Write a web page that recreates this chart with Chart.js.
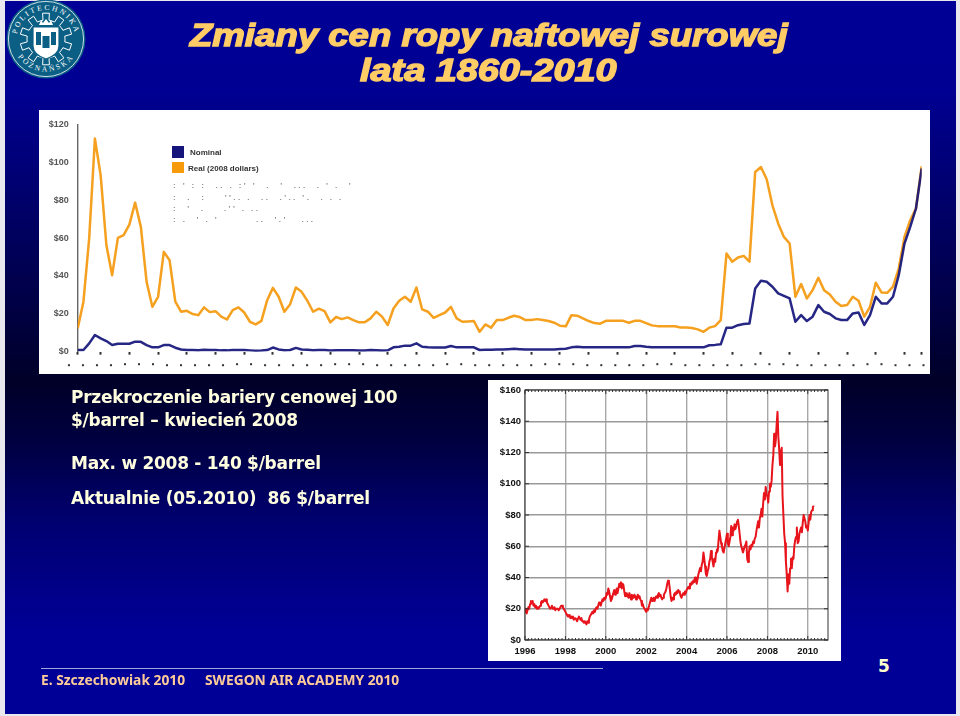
<!DOCTYPE html>
<html lang="pl"><head><meta charset="utf-8">
<script src="https://cdn.jsdelivr.net/npm/chart.js@4"></script>
<style>
html,body{margin:0;padding:0;background:#e8e8ee;width:960px;height:716px;overflow:hidden}
#bg{position:absolute;left:5px;top:1px;width:951px;height:713px;
 background:linear-gradient(to bottom,#000096 0,#000092 90px,#000060 230px,#000028 380px,#000040 440px,#000070 520px,#000096 630px,#000096 100%)}
.t{position:absolute;white-space:nowrap;margin:0}
.title{color:#ffcc66;font:italic 700 31px "Liberation Sans",sans-serif;-webkit-text-stroke:1.4px #ffcc66;transform-origin:0 0}
.body{color:#ffffe0;font:700 17px "DejaVu Sans",sans-serif;filter:blur(.25px);letter-spacing:-.27px}
.foot{color:#ffcc99;font:700 13.8px "Noto Sans",sans-serif;filter:blur(.2px)}
canvas{position:absolute;display:block;background:#fff}
#oilLong{left:39px;top:110px;filter:blur(.55px)}
#oilShort{left:488px;top:380px;filter:blur(.45px)}
#logo{position:absolute;left:5px;top:0}
</style></head><body>
<div id="bg"></div>
<svg id="logo" width="84" height="82" viewBox="0 0 84 82">
 <circle cx="41" cy="39" r="39.5" fill="#0b5f85"/>
 <circle cx="41" cy="39" r="37.6" fill="none" stroke="#dfeaf0" stroke-width=".9"/>
 <defs><path id="arcTop" d="M12.5 47 A29.5 29.5 0 1 1 69.500 47"/><path id="arcBot" d="M9 49 A34 34 0 0 0 73 49"/></defs>
 <text fill="#fff" font-family="Liberation Serif,serif" font-size="7.6" letter-spacing="2.2"><textPath href="#arcTop" startOffset="50%" text-anchor="middle">POLITECHNIKA</textPath></text>
 <text fill="#fff" font-family="Liberation Serif,serif" font-size="7.6" letter-spacing="2.2"><textPath href="#arcBot" startOffset="50%" text-anchor="middle">POZNAŃSKA</textPath></text>
 <path id="gear" fill="none" stroke="#fff" stroke-width="1"/>
 <path d="M28 27h26v19c0 7-7 11-13 13c-6-2-13-6-13-13z" fill="#fff" stroke="#0b5f85" stroke-width="1.2"/>
 <path d="M31 45v-13h5v13zM46 45v-13h5v13zM37.500 48v-12h7v12z" fill="#0b5f85"/>
 <path d="M34 25l2-5 2 3 3-4 3 4 2-3 2 5z" fill="#fff"/>
</svg>
<div class="t title" style="left:190px;top:18px;transform:scaleX(1.18)">Zmiany cen ropy naftowej surowej</div>
<div class="t title" style="left:360px;top:53px;transform:scaleX(1.22)">lata 1860-2010</div>
<canvas id="oilLong" width="891" height="264"></canvas>
<canvas id="oilShort" width="353" height="281"></canvas>
<div class="t body" style="left:71px;top:387px">Przekroczenie bariery cenowej 100</div>
<div class="t body" style="left:71px;top:410px">$/barrel – kwiecień 2008</div>
<div class="t body" style="left:71px;top:453px">Max. w 2008 - 140 $/barrel</div>
<div class="t body" style="left:71px;top:488px">Aktualnie (05.2010)&nbsp; 86 $/barrel</div>
<div style="position:absolute;left:41px;top:668px;width:562px;height:1px;background:#9fa6d8"></div>
<div class="t foot" style="left:41px;top:670px">E. Szczechowiak 2010</div>
<div class="t foot" style="left:205px;top:670px">SWEGON AIR ACADEMY 2010</div>
<div class="t" style="left:878px;top:656px;color:#ffffcc;font:700 17px 'DejaVu Sans',sans-serif">5</div>
<script>
// ---------- long series: 1861-2008, one value per year ----------
const firstYear = 1861;
const nominalName = "Nominal";
const realName = "Real (2008 dollars)";
const nominal = [0.9,0.9,4.4,8.8,7,5.6,3.5,4.2,4.2,4.2,5.3,5.2,3.5,2.3,2.3,3.5,3.5,2.1,
1.2,0.95,0.9,0.8,1.0,0.85,0.9,0.7,0.7,0.9,0.95,0.9,0.7,0.55,0.65,0.85,2.2,1.2,0.8,0.9,2.0,1.2,1.0,0.8,0.95,0.85,0.6,0.75,0.7,0.7,0.7,0.6,0.6,0.95,0.8,0.6,0.7,
2.3,2.6,3.2,3.2,4.4,2.6,2.3,2.2,2.2,2.2,3.0,2.3,2.3,2.3,2.3,0.9,1.0,
1.0,1.1,1.1,1.3,1.5,1.3,1.1,1.1,1.2,1.2,1.2,1.2,1.4,1.6,
2.3,2.6,2.3,2.3,2.3,2.3,2.3,2.4,2.4,2.3,2.3,3.0,3.0,
2.6,2.3,2.3,2.3,2.3,2.3,2.3,2.3,2.3,2.3,2.3,3.4,3.6,3.9,
12.7,12.7,14,14.6,14.9,33.4,37.4,36.9,34.3,30.8,29.5,28.1,15.8,19.3,16.2,18.5,24.6,21.1,19.9,17.6,16.7,16.7,20.2,20.7,14.1,19.3,29,25.5,25.5,29,40.4,57.1,65.9,75.6,96.7];
const real = [12.3,26.4,59.8,112.5,93.1,56.2,40.4,60.1,61.5,67.1,78.7,65.9,36.9,23.7,29,52.7,48.3,26.4,21.1,21.6,19.9,19.3,23.4,20.9,21.4,18.5,17,22,23.4,20.7,15.8,14.4,16.3,27.2,33.7,29,21.1,25.1,33.9,31.6,26.9,21.1,22.7,21.4,15.5,18.3,17.2,18.1,16.7,15.5,15.5,17.6,21.1,18.5,14.1,22.8,26.9,29,26.4,33.9,22.3,21.1,17.9,19.3,20.7,23.7,17.6,15.8,16,16.2,10.5,14.4,
12.7,16.7,16.7,17.9,19,18.3,16.7,16.7,17.2,16.7,16.2,15.3,13.7,13.4,19.3,19,17.6,16.2,15.1,14.8,16.3,16.3,16.3,16.3,15.3,16.3,16.3,15.1,13.9,13.5,13.5,13.5,13.4,12.8,12.8,12.5,11.8,10.5,12.7,13.5,16.7,51.8,47.5,49.7,50.6,47.5,94.9,97.5,91,77.3,67.7,60.6,57.1,29,35.7,28.1,32.5,39,32.5,30.2,26.4,24.1,24.6,29,26.9,18.5,23.7,36.4,31.3,31.1,34.3,43.9,60.6,69.4,75.6,97.9];
const longTicks = [0,20,40,60,80,100,120];
const faintRows = [
 ": ' : :  .. . :' '  .  '  ...  . ' .  '",
 ":  .  :    ''.. .  ..  .'.. '.  . . .",
 ":  '  .    .'' . ..",
 ": .  ' . '        ..  '.'   ..."];
// ---------- short series: 1996-2010.3, two readings per month ----------
const shortStart = 1996;
const readingsPerYear = 24;
const price = [
18,20,17,19,21,20,23,25,24,25,22,23,21,22,20,21,20,21,22,24,25,24,25,26,
25,26,24,23,22,21,20,21,22,20,20,21,19,20,20,20,19,20,21,22,22,21,20,19,
18,17,16,15,15,16,14,15,14,15,13,14,14,13,12,14,15,14,13,14,12,12,11,12,
11,10,12,11,13,15,16,17,18,17,19,18,20,21,20,22,24,23,22,24,26,25,27,26,
27,30,29,33,31,28,25,26,28,30,32,29,31,33,30,33,36,34,37,33,36,35,31,28,
30,28,29,27,30,28,26,29,28,27,29,28,26,27,29,27,28,26,25,22,23,21,20,19,
18,20,19,21,23,25,27,25,26,27,25,27,28,27,29,30,28,29,27,26,27,29,30,31,
33,36,38,37,33,28,25,27,26,29,30,29,31,30,32,31,30,28,27,29,30,29,31,30,
32,33,34,33,36,35,37,36,38,37,40,38,36,39,42,44,46,44,48,50,56,52,47,42,
41,44,46,50,52,57,53,50,47,52,50,56,58,57,64,70,66,62,60,57,56,59,62,65,
68,62,60,63,66,73,67,72,70,74,71,73,76,77,73,68,63,60,58,56,58,60,61,63,
52,50,56,60,58,61,60,63,62,65,66,70,73,76,72,78,80,84,79,88,94,90,98,93,
92,88,95,100,98,102,112,118,132,124,128,138,146,130,122,112,120,123,92,80,68,62,50,42,
31,42,36,46,52,46,53,52,60,64,66,72,62,63,68,70,72,69,75,80,78,76,72,73,
70,75,80,77,82,83,85,86];
const shortYTicks = [0,20,40,60,80,100,120,140,160];
const shortXTicks = [1996,1998,2000,2002,2004,2006,2008,2010];

// gear outline for the logo
(function(){const cx=41,cy=39,n=10;let d='';for(let i=0;i<n;i++){const a=i/n*2*Math.PI-Math.PI/2,w=.16;
 const pts=[[19,a-.31],[19,a-w],[26,a-w+.03],[26,a+w-.03],[19,a+w],[19,a+.31]];
 pts.forEach((p,j)=>{d+=(i==0&&j==0?'M':'L')+(cx+p[0]*Math.cos(p[1])).toFixed(1)+' '+(cy+p[0]*Math.sin(p[1])).toFixed(1)+' ';});}
 document.getElementById('gear').setAttribute('d',d+'Z');})();

const longDecor = {id:'longDecor',afterDraw(c){
 const g=c.ctx,x=c.scales.x,a=c.chartArea;g.save();
 g.font='700 8px "Liberation Sans",sans-serif';g.textBaseline='middle';g.textAlign='left';
 g.fillStyle='#14147a';g.fillRect(133,36,12,12);
 g.fillStyle='#f79a0c';g.fillRect(133,52,12,11);
 g.fillStyle='#333';g.fillText(nominalName,151,43);g.fillText(realName,149,59);
 g.font='900 8px "Liberation Sans",sans-serif';g.fillStyle='#8a8a8a';g.letterSpacing='2.4px';
 faintRows.forEach((r,i)=>g.fillText(r,134,[76,88,99,110][i]));
 g.letterSpacing='0px';
 g.fillStyle='#333';
 for(let y=firstYear-1.7;y<2009;y+=2.44){g.fillRect(x.getPixelForValue(y),a.bottom+12.5+((Math.round((y-firstYear)*10))%3==0?-1:0),2,2);}
 g.restore();}};

new Chart(document.getElementById('oilLong'),{type:'line',
 data:{datasets:[
  {label:nominalName,data:nominal.map((v,i)=>({x:firstYear+i,y:v})),borderColor:'rgba(20,20,122,.92)',borderWidth:2.5,borderJoinStyle:'round',pointRadius:0,tension:0},
  {label:realName,data:real.map((v,i)=>({x:firstYear+i,y:v})),borderColor:'#f5a01e',borderWidth:2.5,borderJoinStyle:'round',pointRadius:0,tension:0}]},
 options:{responsive:false,animation:false,devicePixelRatio:1,
  layout:{padding:{top:14,right:8.3,left:0,bottom:0}},
  plugins:{legend:{display:false},tooltip:{enabled:false}},
  scales:{
   x:{type:'linear',min:firstYear,max:2008,afterFit(s){s.height=22.3;},
      border:{display:false},
      grid:{drawOnChartArea:false,drawTicks:true,tickLength:3,tickColor:'#333',tickWidth:2},
      ticks:{stepSize:5,autoSkip:false,maxRotation:0,callback:()=>'',font:{size:1}}},
   y:{min:0,max:120,afterFit(s){s.width=38.7;},afterBuildTicks(s){s.ticks=longTicks.map(v=>({value:v}));},
      border:{color:'#666',width:1.4},grid:{display:false,drawTicks:false},
      ticks:{padding:9,color:'#555',font:{family:'Liberation Sans',weight:'700',size:9},callback:v=>'$'+v}}}},
 plugins:[longDecor]});

const frame = {id:'frame',afterDatasetsDraw(c){
 const g=c.ctx,a=c.chartArea,x=c.scales.x,y=c.scales.y;g.save();
 g.strokeStyle='#333';g.lineWidth=1;g.strokeRect(a.left,a.top,a.right-a.left,a.bottom-a.top);
 g.beginPath();
 for(let v=shortStart;v<=2011;v+=1/6){const p=x.getPixelForValue(v);const l=Math.abs(v-Math.round(v))<.01&&Math.round(v)%2==0?4:2;
  g.moveTo(p,a.top);g.lineTo(p,a.top+l);g.moveTo(p,a.bottom);g.lineTo(p,a.bottom-l);}
 shortYTicks.forEach(v=>{const p=y.getPixelForValue(v);g.moveTo(a.left,p);g.lineTo(a.left+4,p);g.moveTo(a.right,p);g.lineTo(a.right-4,p);});
 g.stroke();g.restore();}};

new Chart(document.getElementById('oilShort'),{type:'line',
 data:{datasets:[{label:'Crude oil price',data:price.map((v,i)=>({x:shortStart+i/readingsPerYear,y:v})),borderColor:'#e8141c',borderWidth:2,borderJoinStyle:'round',pointRadius:0,tension:0}]},
 options:{responsive:false,animation:false,devicePixelRatio:1,
  layout:{padding:{top:10,right:13,left:0,bottom:0}},
  plugins:{legend:{display:false},tooltip:{enabled:false}},
  scales:{
   x:{type:'linear',min:shortStart,max:2011,afterFit(s){s.height=21;},
      afterBuildTicks(s){s.ticks=shortXTicks.map(v=>({value:v}));},
      grid:{color:'#a8a8a8',lineWidth:1.4,drawTicks:false},border:{display:false},
      ticks:{padding:5.5,autoSkip:false,maxRotation:0,color:'#111',font:{family:'Liberation Sans',weight:'700',size:9.5},callback:v=>String(v)}},
   y:{min:0,max:160,afterFit(s){s.width=37;},afterBuildTicks(s){s.ticks=shortYTicks.map(v=>({value:v}));},
      grid:{color:'#999',lineWidth:1.4,drawTicks:false},border:{display:false},
      ticks:{padding:4,color:'#111',font:{family:'Liberation Sans',weight:'700',size:9.5},callback:v=>'$'+v}}}},
 plugins:[frame]});
</script>
</body></html>
